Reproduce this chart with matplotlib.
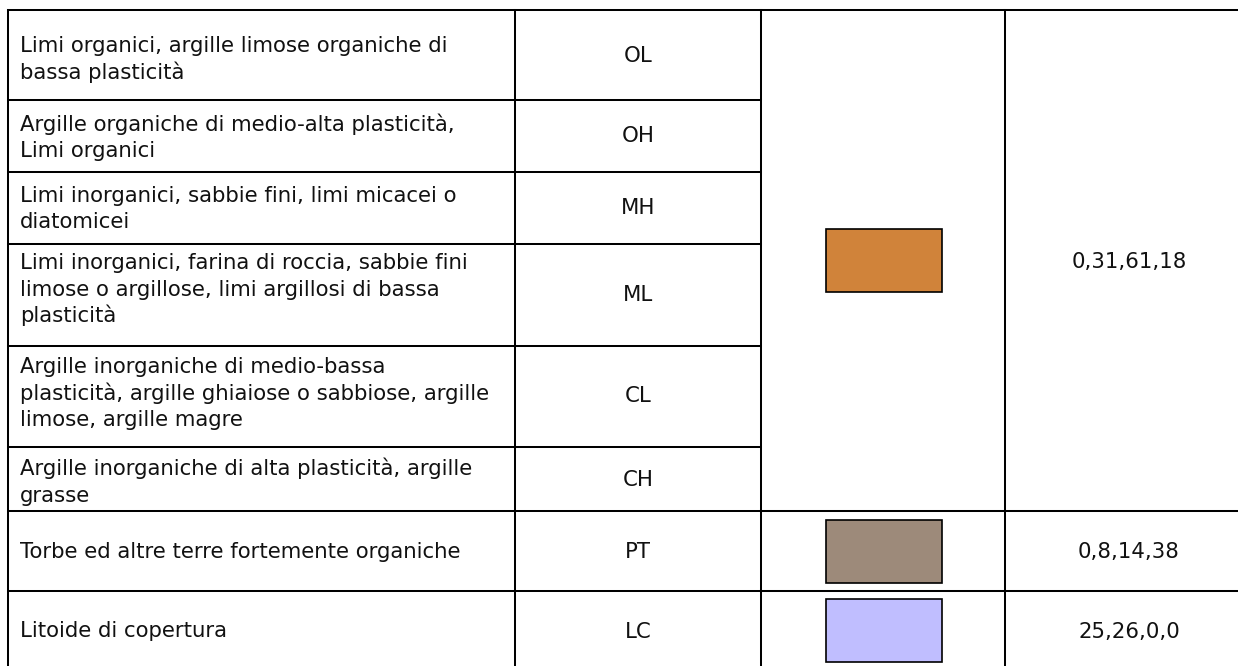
import matplotlib
matplotlib.use("Agg")
import matplotlib.pyplot as plt
from matplotlib.patches import Rectangle

# table content
descriptions = [
    "Limi organici, argille limose organiche di\nbassa plasticità",
    "Argille organiche di medio-alta plasticità,\nLimi organici",
    "Limi inorganici, sabbie fini, limi micacei o\ndiatomicei",
    "Limi inorganici, farina di roccia, sabbie fini\nlimose o argillose, limi argillosi di bassa\nplasticità",
    "Argille inorganiche di medio-bassa\nplasticità, argille ghiaiose o sabbiose, argille\nlimose, argille magre",
    "Argille inorganiche di alta plasticità, argille\ngrasse",
    "Torbe ed altre terre fortemente organiche",
    "Litoide di copertura",
]
codes = ["OL", "OH", "MH", "ML", "CL", "CH", "PT", "LC"]

# merged legend cells: (first row, last row + 1)
group_spans = [(0, 6), (6, 7), (7, 8)]
group_colors = ["#D0833A", "#9D8A7A", "#C0BEFF"]
group_cmyk = ["0,31,61,18", "0,8,14,38", "25,26,0,0"]

# layout, in pixels
W, H = 1238, 666
row_edges = [10, 100, 172, 244, 346, 447, 511, 591, 670]
col_edges = [8, 515, 761, 1005, 1253]
# baseline of the middle line relative to the cell centre
desc_shift = [10.5, 8, 7, 0.5, 3, 9.5, 6.5, 6.5]
code_shift = [7.5, 6, 6, 6, 6, 6.5, 7, 7]
pad_left = 12
pitch = 26.7
fs = 15.3
sw_w, sw_h = 116, 63
lw = 1.45

fig = plt.figure(figsize=(W / 100, H / 100), dpi=100)
ax = fig.add_axes([0, 0, 1, 1])
ax.set_xlim(0, W)
ax.set_ylim(H, 0)
ax.axis("off")

txt = dict(fontsize=fs, family="DejaVu Sans", color="#111111", va="baseline")


def put_lines(x, yc, s, ha, shift):
    lines = s.split("\n")
    n = len(lines)
    for i, line in enumerate(lines):
        y = yc + shift + (i - (n - 1) / 2) * pitch
        ax.text(x, y, line, ha=ha, **txt)


# vertical lines
for x in col_edges:
    ax.plot([x, x], [row_edges[0], row_edges[-1]], color="black", lw=lw,
            solid_capstyle="projecting")

# horizontal lines for the first two columns
for y in row_edges:
    ax.plot([col_edges[0], col_edges[2]], [y, y], color="black", lw=lw,
            solid_capstyle="projecting")

# rows text
for i, (d, c) in enumerate(zip(descriptions, codes)):
    yc = (row_edges[i] + row_edges[i + 1]) / 2
    put_lines(col_edges[0] + pad_left, yc, d, "left", desc_shift[i])
    put_lines((col_edges[1] + col_edges[2]) / 2, yc, c, "center", code_shift[i])

# merged legend cells
for (a, b), col, lab in zip(group_spans, group_colors, group_cmyk):
    for y in (row_edges[a], row_edges[b]):
        ax.plot([col_edges[2], col_edges[4]], [y, y], color="black", lw=lw,
                solid_capstyle="projecting")
    yc = (row_edges[a] + row_edges[b]) / 2
    xc = (col_edges[2] + col_edges[3]) / 2 + 1
    ax.add_patch(Rectangle((xc - sw_w / 2, yc - sw_h / 2), sw_w, sw_h,
                           facecolor=col, edgecolor="black", lw=1.2))
    put_lines((col_edges[3] + col_edges[4]) / 2, yc, lab, "center", 7)

fig.savefig("out.png", dpi=100, facecolor="white")
